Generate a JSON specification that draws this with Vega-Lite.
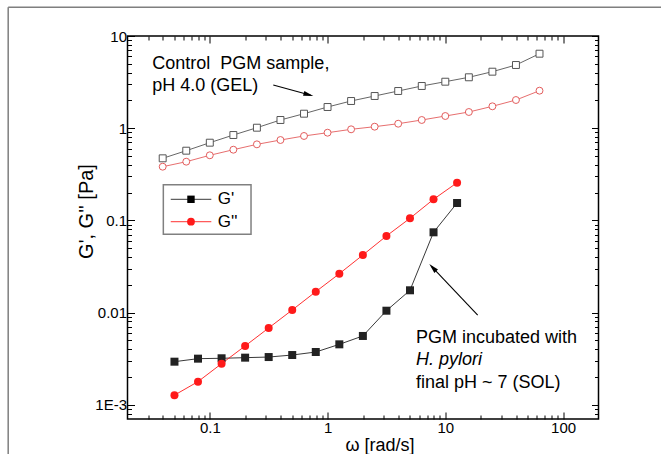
{
  "$schema": "https://vega.github.io/schema/vega-lite/v6.json",
  "width": 471,
  "height": 383,
  "autosize": {"type": "none"},
  "padding": {"left": 127.5, "top": 36, "right": 62.5, "bottom": 35},
  "background": "white",
  "config": {
    "view": {"stroke": "black", "strokeWidth": 1.5},
    "axis": {"grid": false, "domain": false, "tickColor": "black", "tickWidth": 1, "labelFont": "Liberation Sans", "labelFontSize": 15, "labelColor": "black", "titleFont": "Liberation Sans", "titleColor": "black", "titleFontWeight": "normal", "labelFlush": false, "labelOverlap": false},
    "text": {"font": "Liberation Sans", "color": "black"}
  },
  "datasets": {
    "curves": [
      {"omega": 0.0398, "G": 0.471, "series": "Control G'"},
      {"omega": 0.0631, "G": 0.570, "series": "Control G'"},
      {"omega": 0.1, "G": 0.696, "series": "Control G'"},
      {"omega": 0.1585, "G": 0.843, "series": "Control G'"},
      {"omega": 0.2512, "G": 1.012, "series": "Control G'"},
      {"omega": 0.3981, "G": 1.227, "series": "Control G'"},
      {"omega": 0.631, "G": 1.436, "series": "Control G'"},
      {"omega": 1, "G": 1.697, "series": "Control G'"},
      {"omega": 1.585, "G": 1.972, "series": "Control G'"},
      {"omega": 2.512, "G": 2.234, "series": "Control G'"},
      {"omega": 3.981, "G": 2.531, "series": "Control G'"},
      {"omega": 6.31, "G": 2.869, "series": "Control G'"},
      {"omega": 10, "G": 3.193, "series": "Control G'"},
      {"omega": 15.85, "G": 3.565, "series": "Control G'"},
      {"omega": 25.12, "G": 4.101, "series": "Control G'"},
      {"omega": 39.81, "G": 4.846, "series": "Control G'"},
      {"omega": 63.1, "G": 6.427, "series": "Control G'"},
      {"omega": 0.0398, "G": 0.382, "series": "Control G''"},
      {"omega": 0.0631, "G": 0.433, "series": "Control G''"},
      {"omega": 0.1, "G": 0.508, "series": "Control G''"},
      {"omega": 0.1585, "G": 0.584, "series": "Control G''"},
      {"omega": 0.2512, "G": 0.668, "series": "Control G''"},
      {"omega": 0.3981, "G": 0.744, "series": "Control G''"},
      {"omega": 0.631, "G": 0.823, "series": "Control G''"},
      {"omega": 1, "G": 0.893, "series": "Control G''"},
      {"omega": 1.585, "G": 0.972, "series": "Control G''"},
      {"omega": 2.512, "G": 1.038, "series": "Control G''"},
      {"omega": 3.981, "G": 1.118, "series": "Control G''"},
      {"omega": 6.31, "G": 1.227, "series": "Control G''"},
      {"omega": 10, "G": 1.355, "series": "Control G''"},
      {"omega": 15.85, "G": 1.498, "series": "Control G''"},
      {"omega": 25.12, "G": 1.727, "series": "Control G''"},
      {"omega": 39.81, "G": 2.021, "series": "Control G''"},
      {"omega": 63.1, "G": 2.551, "series": "Control G''"},
      {"omega": 0.0501, "G": 0.00293, "series": "H. pylori G'"},
      {"omega": 0.0794, "G": 0.00316, "series": "H. pylori G'"},
      {"omega": 0.1259, "G": 0.00319, "series": "H. pylori G'"},
      {"omega": 0.1995, "G": 0.00324, "series": "H. pylori G'"},
      {"omega": 0.3162, "G": 0.00329, "series": "H. pylori G'"},
      {"omega": 0.5012, "G": 0.00346, "series": "H. pylori G'"},
      {"omega": 0.7943, "G": 0.00373, "series": "H. pylori G'"},
      {"omega": 1.259, "G": 0.00452, "series": "H. pylori G'"},
      {"omega": 1.995, "G": 0.00557, "series": "H. pylori G'"},
      {"omega": 3.162, "G": 0.01047, "series": "H. pylori G'"},
      {"omega": 5.012, "G": 0.01743, "series": "H. pylori G'"},
      {"omega": 7.943, "G": 0.0742, "series": "H. pylori G'"},
      {"omega": 12.59, "G": 0.1543, "series": "H. pylori G'"},
      {"omega": 0.0501, "G": 0.00127, "series": "H. pylori G''"},
      {"omega": 0.0794, "G": 0.00178, "series": "H. pylori G''"},
      {"omega": 0.1259, "G": 0.00279, "series": "H. pylori G''"},
      {"omega": 0.1995, "G": 0.00434, "series": "H. pylori G''"},
      {"omega": 0.3162, "G": 0.0068, "series": "H. pylori G''"},
      {"omega": 0.5012, "G": 0.01066, "series": "H. pylori G''"},
      {"omega": 0.7943, "G": 0.01683, "series": "H. pylori G''"},
      {"omega": 1.259, "G": 0.02638, "series": "H. pylori G''"},
      {"omega": 1.995, "G": 0.04209, "series": "H. pylori G''"},
      {"omega": 3.162, "G": 0.06766, "series": "H. pylori G''"},
      {"omega": 5.012, "G": 0.1053, "series": "H. pylori G''"},
      {"omega": 7.943, "G": 0.1692, "series": "H. pylori G''"},
      {"omega": 12.59, "G": 0.2562, "series": "H. pylori G''"}
    ],
    "one": [{}]
  },
  "layer": [
    {
      "data": {"name": "curves"},
      "transform": [{"filter": "indexof(datum.series, 'H. pylori') >= 0"}],
      "mark": {"type": "line", "strokeWidth": 0.9},
      "encoding": {
        "x": {"field": "omega", "type": "quantitative", "scale": {"type": "log", "domain": [0.02, 200], "nice": false},
          "axis": {"orient": "bottom", "values": [0.1, 1, 10, 100], "tickSize": -7, "labelPadding": 8, "labelExpr": "format(datum.value, '~g')", "title": "ω [rad/s]", "titleFontSize": 18, "titleX": 252, "titleY": 31.5, "titleAlign": "center", "titleBaseline": "alphabetic"}},
        "y": {"field": "G", "type": "quantitative", "scale": {"type": "log", "domain": [0.0007, 10], "nice": false},
          "axis": {"orient": "left", "values": [0.001, 0.01, 0.1, 1, 10], "tickSize": -7, "labelPadding": 8, "labelExpr": "datum.value < 0.005 ? '1E-3' : format(datum.value, '~g')", "title": "G', G'' [Pa]", "titleFontSize": 20, "titleX": -35.5, "titleY": 175, "titleAngle": 270, "titleAlign": "center", "titleBaseline": "alphabetic"}},
        "color": {"field": "series", "type": "nominal", "scale": {"domain": ["Control G'", "Control G''", "H. pylori G'", "H. pylori G''"], "range": ["#555555", "#e35d5d", "#222222", "#ff1a1a"]}, "legend": null}
      }
    },
    {
      "data": {"name": "curves"},
      "transform": [{"filter": "indexof(datum.series, 'Control') >= 0"}],
      "mark": {"type": "line", "strokeWidth": 0.9},
      "encoding": {
        "x": {"field": "omega", "type": "quantitative", "scale": {"type": "log", "domain": [0.02, 200], "nice": false},
          "axis": {"orient": "top", "values": [0.1, 1, 10, 100], "tickSize": -7, "labels": false, "title": null}},
        "y": {"field": "G", "type": "quantitative", "scale": {"type": "log", "domain": [0.0007, 10], "nice": false},
          "axis": {"orient": "right", "values": [0.001, 0.01, 0.1, 1, 10], "tickSize": -7, "labels": false, "title": null}},
        "color": {"field": "series", "type": "nominal", "legend": null}
      }
    },
    {
      "data": {"name": "curves"},
      "transform": [{"filter": "indexof(datum.series, 'H. pylori') >= 0"}],
      "mark": {"type": "point", "filled": true, "size": 64, "opacity": 1},
      "encoding": {
        "x": {"field": "omega", "type": "quantitative", "scale": {"type": "log", "domain": [0.02, 200], "nice": false},
          "axis": {"orient": "bottom", "values": [0.03, 0.04, 0.05, 0.06, 0.07, 0.08, 0.09, 0.2, 0.3, 0.4, 0.5, 0.6, 0.7, 0.8, 0.9, 2, 3, 4, 5, 6, 7, 8, 9, 20, 30, 40, 50, 60, 70, 80, 90], "tickSize": -4, "labels": false, "title": null}},
        "y": {"field": "G", "type": "quantitative", "scale": {"type": "log", "domain": [0.0007, 10], "nice": false},
          "axis": {"orient": "left", "values": [0.0008, 0.0009, 0.002, 0.003, 0.004, 0.005, 0.006, 0.007, 0.008, 0.009, 0.02, 0.03, 0.04, 0.05, 0.06, 0.07, 0.08, 0.09, 0.2, 0.3, 0.4, 0.5, 0.6, 0.7, 0.8, 0.9, 2, 3, 4, 5, 6, 7, 8, 9], "tickSize": -4, "labels": false, "title": null}},
        "color": {"field": "series", "type": "nominal", "legend": null},
        "shape": {"field": "series", "type": "nominal", "scale": {"domain": ["Control G'", "Control G''", "H. pylori G'", "H. pylori G''"], "range": ["square", "circle", "square", "circle"]}, "legend": null}
      }
    },
    {
      "data": {"name": "curves"},
      "transform": [{"filter": "indexof(datum.series, 'Control') >= 0"}],
      "mark": {"type": "point", "filled": false, "fill": "white", "strokeWidth": 1, "size": 48, "opacity": 1},
      "encoding": {
        "x": {"field": "omega", "type": "quantitative", "scale": {"type": "log", "domain": [0.02, 200], "nice": false},
          "axis": {"orient": "top", "values": [0.03, 0.04, 0.05, 0.06, 0.07, 0.08, 0.09, 0.2, 0.3, 0.4, 0.5, 0.6, 0.7, 0.8, 0.9, 2, 3, 4, 5, 6, 7, 8, 9, 20, 30, 40, 50, 60, 70, 80, 90], "tickSize": -4, "labels": false, "title": null}},
        "y": {"field": "G", "type": "quantitative", "scale": {"type": "log", "domain": [0.0007, 10], "nice": false},
          "axis": {"orient": "right", "values": [0.0008, 0.0009, 0.002, 0.003, 0.004, 0.005, 0.006, 0.007, 0.008, 0.009, 0.02, 0.03, 0.04, 0.05, 0.06, 0.07, 0.08, 0.09, 0.2, 0.3, 0.4, 0.5, 0.6, 0.7, 0.8, 0.9, 2, 3, 4, 5, 6, 7, 8, 9], "tickSize": -4, "labels": false, "title": null}},
        "color": {"field": "series", "type": "nominal", "legend": null},
        "shape": {"field": "series", "type": "nominal", "legend": null}
      }
    },
    {
      "data": {"name": "one"},
      "mark": {"type": "rect", "fill": "white", "stroke": "#808080", "strokeWidth": 1.5},
      "encoding": {
        "x": {"datum": 0.0403, "type": "quantitative", "axis": null},
        "x2": {"datum": 0.2239},
        "y": {"datum": 0.2438, "type": "quantitative", "axis": null},
        "y2": {"datum": 0.0706}
      }
    },
    {
      "data": {"name": "one"},
      "mark": {"type": "rule", "color": "#222222", "strokeWidth": 0.9},
      "encoding": {
        "x": {"datum": 0.0466, "type": "quantitative", "axis": null},
        "x2": {"datum": 0.103},
        "y": {"datum": 0.1692, "type": "quantitative", "axis": null}
      }
    },
    {
      "data": {"name": "one"},
      "mark": {"type": "rule", "color": "#ff1a1a", "strokeWidth": 0.9},
      "encoding": {
        "x": {"datum": 0.0466, "type": "quantitative", "axis": null},
        "x2": {"datum": 0.103},
        "y": {"datum": 0.0967, "type": "quantitative", "axis": null}
      }
    },
    {
      "data": {"name": "one"},
      "mark": {"type": "point", "shape": "square", "filled": true, "color": "#000000", "size": 55, "opacity": 1},
      "encoding": {
        "x": {"datum": 0.0692, "type": "quantitative", "axis": null},
        "y": {"datum": 0.1692, "type": "quantitative", "axis": null}
      }
    },
    {
      "data": {"name": "one"},
      "mark": {"type": "point", "shape": "circle", "filled": true, "color": "#ff1a1a", "size": 60, "opacity": 1},
      "encoding": {
        "x": {"datum": 0.0692, "type": "quantitative", "axis": null},
        "y": {"datum": 0.0967, "type": "quantitative", "axis": null}
      }
    },
    {
      "data": {"name": "one"},
      "mark": {"type": "text", "fontSize": 17, "align": "left", "baseline": "alphabetic"},
      "encoding": {
        "x": {"datum": 0.1167, "type": "quantitative", "axis": null},
        "y": {"datum": 0.1497, "type": "quantitative", "axis": null},
        "text": {"value": "G'"}
      }
    },
    {
      "data": {"name": "one"},
      "mark": {"type": "text", "fontSize": 17, "align": "left", "baseline": "alphabetic"},
      "encoding": {
        "x": {"datum": 0.1167, "type": "quantitative", "axis": null},
        "y": {"datum": 0.0857, "type": "quantitative", "axis": null},
        "text": {"value": "G''"}
      }
    },
    {
      "data": {"name": "one"},
      "mark": {"type": "text", "fontSize": 18, "align": "left", "baseline": "alphabetic", "lineHeight": 22},
      "encoding": {
        "x": {"datum": 0.0325, "type": "quantitative", "axis": null},
        "y": {"datum": 4.385, "type": "quantitative", "axis": null},
        "text": {"value": ["Control\u00a0 PGM sample,", "pH 4.0 (GEL)"]}
      }
    },
    {
      "data": {"name": "one"},
      "mark": {"type": "text", "fontSize": 18, "align": "left", "baseline": "alphabetic"},
      "encoding": {
        "x": {"datum": 5.64, "type": "quantitative", "axis": null},
        "y": {"datum": 0.00471, "type": "quantitative", "axis": null},
        "text": {"value": "PGM incubated with"}
      }
    },
    {
      "data": {"name": "one"},
      "mark": {"type": "text", "fontSize": 18, "align": "left", "baseline": "alphabetic", "fontStyle": "italic"},
      "encoding": {
        "x": {"datum": 5.64, "type": "quantitative", "axis": null},
        "y": {"datum": 0.002685, "type": "quantitative", "axis": null},
        "text": {"value": "H. pylori"}
      }
    },
    {
      "data": {"name": "one"},
      "mark": {"type": "text", "fontSize": 18, "align": "left", "baseline": "alphabetic"},
      "encoding": {
        "x": {"datum": 5.64, "type": "quantitative", "axis": null},
        "y": {"datum": 0.001529, "type": "quantitative", "axis": null},
        "text": {"value": "final pH ~ 7 (SOL)"}
      }
    },
    {
      "data": {"name": "one"},
      "mark": {"type": "rule", "color": "black", "strokeWidth": 1.1},
      "encoding": {
        "x": {"datum": 0.346, "type": "quantitative", "axis": null},
        "y": {"datum": 2.941, "type": "quantitative", "axis": null},
        "x2": {"datum": 0.72},
        "y2": {"datum": 2.28}
      }
    },
    {
      "data": {"name": "one"},
      "mark": {"type": "point", "shape": "M1,0L-1,-0.5L-1,0.5Z", "filled": true, "color": "black", "size": 100, "angle": 15.4, "opacity": 1},
      "encoding": {
        "x": {"datum": 0.689, "type": "quantitative", "axis": null},
        "y": {"datum": 2.31, "type": "quantitative", "axis": null}
      }
    },
    {
      "data": {"name": "one"},
      "mark": {"type": "rule", "color": "black", "strokeWidth": 1.1},
      "encoding": {
        "x": {"datum": 18.84, "type": "quantitative", "axis": null},
        "y": {"datum": 0.009403, "type": "quantitative", "axis": null},
        "x2": {"datum": 7.6},
        "y2": {"datum": 0.0318}
      }
    },
    {
      "data": {"name": "one"},
      "mark": {"type": "point", "shape": "M1,0L-1,-0.5L-1,0.5Z", "filled": true, "color": "black", "size": 100, "angle": 226.5, "opacity": 1},
      "encoding": {
        "x": {"datum": 7.82, "type": "quantitative", "axis": null},
        "y": {"datum": 0.03071, "type": "quantitative", "axis": null}
      }
    },
    {
      "data": {"name": "one"},
      "mark": {"type": "rule", "color": "#7f7f7f", "strokeWidth": 1.5},
      "encoding": {
        "x": {"datum": 0.00194, "type": "quantitative", "axis": null},
        "x2": {"datum": 1000},
        "y": {"datum": 20.48, "type": "quantitative", "axis": null}
      }
    },
    {
      "data": {"name": "one"},
      "mark": {"type": "rule", "color": "#7f7f7f", "strokeWidth": 1.5},
      "encoding": {
        "x": {"datum": 0.00194, "type": "quantitative", "axis": null},
        "y": {"datum": 20.48, "type": "quantitative", "axis": null},
        "y2": {"datum": 0.0001}
      }
    }
  ],
  "resolve": {"axis": {"x": "independent", "y": "independent"}}
}
